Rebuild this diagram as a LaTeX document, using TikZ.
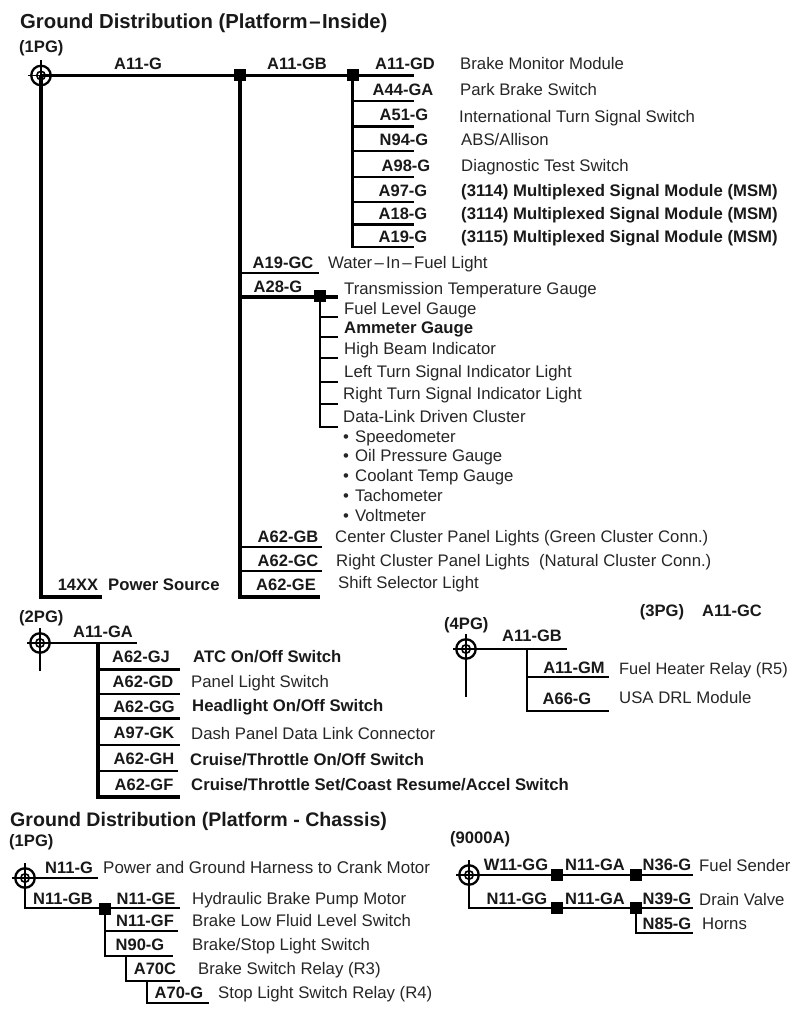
\documentclass[tikz,border=0pt]{standalone}
\usepackage{fontspec}
\setmainfont{Liberation Sans}
\newcommand{\dsh}{\kern1.5pt–\kern1.5pt}
\newcommand{\dshb}{\kern2.3pt–\kern2.3pt}
\tikzset{
  wl/.style={inner sep=0pt,text height=12pt,text depth=0pt,font=\fontsize{16.5}{18}\selectfont\bfseries,text=black!90,anchor=center},
  tx/.style={inner sep=0pt,text height=12pt,text depth=0pt,font=\fontsize{16.75}{18}\selectfont,text=black!85,anchor=west},
  bx/.style={inner sep=0pt,text height=12pt,text depth=0pt,font=\fontsize{16.7}{18}\selectfont\bfseries,text=black!90,anchor=west},
  ttl/.style={inner sep=0pt,text height=14.5pt,text depth=0pt,font=\fontsize{20.3}{22}\selectfont\bfseries,text=black!90,anchor=west},
  ttlb/.style={ttl,font=\fontsize{19.6}{22}\selectfont\bfseries},
  tag/.style={inner sep=0pt,text height=12pt,text depth=0pt,font=\fontsize{16.6}{18}\selectfont\bfseries,text=black!90,anchor=center},
  thickw/.style={line width=3.3pt,black},
  midw/.style={line width=2.7pt,black},
  thinw/.style={line width=1.9pt,black},
  junc/.style={rectangle,fill=black,inner sep=0pt,minimum size=12pt},
  gndo/.style={circle,draw=black,line width=2.3pt,inner sep=0pt,minimum size=19.5pt},
  gndi/.style={circle,draw=black,line width=1.6pt,inner sep=0pt,minimum size=8.5pt},
}
% ground symbol: name, x, y
\newcommand{\gnd}[3]{%
  \node[gndo] (#1) at (#2,#3) {};
  \node[gndi] (#1i) at (#2,#3) {};
  \coordinate (#1l) at (#2-13,#3);
  \coordinate (#1t) at (#2,#3-15);
  \draw[line width=1.6pt] (#1l) -- (#1.center);
  \draw[line width=1.6pt] (#1t) -- (#1.center);
}
% horizontal branch: name, x0, x1, y, style
\newcommand{\hbr}[5]{%
  \coordinate (#1a) at (#2,#4);
  \coordinate (#1b) at (#3,#4);
  \draw[#5,line cap=butt] (#1a) -- (#1b);
}
\begin{document}
\begin{tikzpicture}[x=1pt,y=-1pt]
\useasboundingbox (0,0) rectangle (800,1022);
\fill[white] (0,0) rectangle (800,1022);

%% ---------- Platform - Inside ----------
\node[ttl] (t1) at (20,21) {Ground Distribution (Platform\dsh Inside)};
\node[tag,anchor=west] (p1) at (19,47) {(1PG)};
\gnd{g1}{41}{75.5}
\node[junc] (j1) at (240,75.5) {};
\node[junc] (j2) at (352.5,75.5) {};
\coordinate (m1e) at (414,75.5);
\draw[midw] (g1.center) -- (j1.center) -- (j2.center) -- (m1e);
\coordinate (k1) at (41,597);
\coordinate (k1e) at (102,597);
\draw[thickw] (g1.center) -- (k1) -- (k1e);
\coordinate (k2) at (240,597);
\coordinate (k2e) at (320,597);
\draw[thickw] (j1.center) -- (k2) -- (k2e);
\coordinate (k3) at (352.5,247);
\coordinate (k3e) at (414,247);
\draw[midw] (j2.center) -- (k3) -- (k3e);
\hbr{b1}{352}{414}{101}{midw}
\hbr{b2}{352}{414}{126.5}{midw}
\hbr{b3}{352}{414}{151}{midw}
\hbr{b4}{352}{414}{177}{midw}
\hbr{b5}{352}{414}{202}{midw}
\hbr{b6}{352}{414}{224.5}{midw}

\node[wl] (w01) at (138,64) {A11-G};
\node[wl] (w02) at (297,64) {A11-GB};
\node[wl] (w03) at (405,64) {A11-GD};
\node[wl] (w04) at (403,90) {A44-GA};
\node[wl] (w05) at (404,115) {A51-G};
\node[wl] (w06) at (404,140) {N94-G};
\node[wl] (w07) at (406,165) {A98-G};
\node[wl] (w08) at (403,190) {A97-G};
\node[wl] (w09) at (403,213) {A18-G};
\node[wl] (w10) at (403,236) {A19-G};
\node[tx] (d01) at (460,63.5) {Brake Monitor Module};
\node[tx] (d02) at (460,90) {Park Brake Switch};
\node[tx] (d03) at (459,116) {International Turn Signal Switch};
\node[tx] (d04) at (461,140) {ABS/Allison};
\node[tx] (d05) at (461,165.5) {Diagnostic Test Switch};
\node[bx] (d06) at (461,190) {(3114) Multiplexed Signal Module (MSM)};
\node[bx] (d07) at (461,213) {(3114) Multiplexed Signal Module (MSM)};
\node[bx] (d08) at (461,236) {(3115) Multiplexed Signal Module (MSM)};

\hbr{c1}{240}{319}{273}{thinw}
\node[junc] (j3) at (320,295.5) {};
\coordinate (c2a) at (240,297);
\coordinate (c2b) at (338,297);
\draw[thickw] (c2a) -- (c2b);
\coordinate (c3) at (320,427);
\coordinate (c3e) at (338,427);
\draw[midw] (j3.center) -- (c3) -- (c3e);
\hbr{e1}{320}{338}{317}{thinw}
\hbr{e2}{320}{338}{337}{thinw}
\hbr{e3}{320}{338}{358}{thinw}
\hbr{e4}{320}{338}{382}{thinw}
\hbr{e5}{320}{338}{404}{thinw}
\hbr{c4}{240}{322}{547}{midw}
\hbr{c5}{240}{322}{571}{midw}

\node[wl] (w11) at (283,262) {A19-GC};
\node[wl] (w12) at (278,286) {A28-G};
\node[tx] (d09) at (328,262) {Water\dshb In\dshb Fuel Light};
\node[tx] (d10) at (344,288) {Transmission Temperature Gauge};
\node[tx] (d11) at (344,308) {Fuel Level Gauge};
\node[bx] (d12) at (344,327) {Ammeter Gauge};
\node[tx] (d13) at (344,348) {High Beam Indicator};
\node[tx] (d14) at (344,371) {Left Turn Signal Indicator Light};
\node[tx] (d15) at (343,393) {Right Turn Signal Indicator Light};
\node[tx] (d16) at (343,416) {Data-Link Driven Cluster};
\node[tx] (d17) at (343,436) {•\kern1.5pt\ Speedometer};
\node[tx] (d18) at (343,455.5) {•\kern1.5pt\ Oil Pressure Gauge};
\node[tx] (d19) at (343,475.5) {•\kern1.5pt\ Coolant Temp Gauge};
\node[tx] (d20) at (343,495) {•\kern1.5pt\ Tachometer};
\node[tx] (d21) at (343,515) {•\kern1.5pt\ Voltmeter};
\node[wl] (w13) at (288,536) {A62-GB};
\node[wl] (w14) at (288,560) {A62-GC};
\node[wl] (w15) at (286,584) {A62-GE};
\node[tx,font=\fontsize{16.7}{18}\selectfont] (d22) at (335,536) {Center Cluster Panel Lights (Green Cluster Conn.)};
\node[tx,font=\fontsize{16.75}{18}\selectfont] (d23) at (336,560) {Right Cluster Panel Lights\ \ (Natural Cluster Conn.)};
\node[tx] (d24) at (338,582) {Shift Selector Light};
\node[wl] (w16) at (78,584) {14XX};
\node[bx] (d25) at (108,584.5) {Power Source};

%% ---------- 2PG ----------
\node[tag,anchor=west] (p2) at (19,616) {(2PG)};
\gnd{g2}{40}{643}
\coordinate (g2d) at (40,671);
\draw[line width=1.8pt] (g2.center) -- (g2d);
\coordinate (n1) at (98,643);
\coordinate (n1e) at (137,643);
\draw[line width=2.2pt] (g2.center) -- (n1) -- (n1e);
\coordinate (n2) at (98,797);
\coordinate (n2e) at (180,797);
\draw[thickw] (n1) -- (n2) -- (n2e);
\hbr{f1}{98}{180}{669.5}{midw}
\hbr{f2}{98}{180}{694}{midw}
\hbr{f3}{98}{180}{718.5}{midw}
\hbr{f4}{98}{180}{745}{midw}
\hbr{f5}{98}{178}{771}{midw}
\node[wl] (w20) at (103,631) {A11-GA};
\node[wl] (w21) at (141,656) {A62-GJ};
\node[wl] (w22) at (143,681) {A62-GD};
\node[wl] (w23) at (144,706) {A62-GG};
\node[wl] (w24) at (144,732) {A97-GK};
\node[wl] (w25) at (144,758) {A62-GH};
\node[wl] (w26) at (144,784) {A62-GF};
\node[bx] (d30) at (193,656.5) {ATC On/Off Switch};
\node[tx] (d31) at (191,681) {Panel Light Switch};
\node[bx] (d32) at (192,705) {Headlight On/Off Switch};
\node[tx] (d33) at (191,733) {Dash Panel Data Link Connector};
\node[bx] (d34) at (190,759) {Cruise/Throttle On/Off Switch};
\node[bx] (d35) at (191,784) {Cruise/Throttle Set/Coast Resume/Accel Switch};

%% ---------- 4PG / 3PG ----------
\node[tag,anchor=west] (p4) at (444,623) {(4PG)};
\node[tag] (p3) at (662,610) {(3PG)};
\node[wl] (w30) at (732,610) {A11-GC};
\gnd{g4}{466}{649}
\coordinate (g4d) at (466,697);
\draw[line width=1.9pt] (g4.center) -- (g4d);
\coordinate (q1) at (527,649);
\coordinate (q1e) at (567,649);
\draw[midw] (g4.center) -- (q1) -- (q1e);
\coordinate (q2) at (527,711);
\coordinate (q2e) at (609,711);
\draw[midw] (q1) -- (q2) -- (q2e);
\hbr{h1}{527}{609}{677}{midw}
\node[wl] (w31) at (532,635) {A11-GB};
\node[wl] (w32) at (574,667) {A11-GM};
\node[wl] (w33) at (567,698) {A66-G};
\node[tx,font=\fontsize{16.4}{18}\selectfont] (d40) at (619,668) {Fuel Heater Relay (R5)};
\node[tx] (d41) at (619,697) {USA DRL Module};

%% ---------- Platform - Chassis ----------
\node[ttlb] (t2) at (10,819) {Ground Distribution (Platform - Chassis)};
\node[tag,anchor=west] (p5) at (9,840) {(1PG)};
\gnd{g5}{25}{878}
\coordinate (r1e) at (98,878);
\draw[midw] (g5.center) -- (r1e);
\node[junc] (j5) at (105,909) {};
\coordinate (r2) at (25,908);
\coordinate (r3e) at (180,908);
\draw[midw] (g5.center) -- (r2) -- (r3e);
\coordinate (r4) at (105,956);
\coordinate (r4e) at (173,956);
\draw[midw] (j5.center) -- (r4) -- (r4e);
\hbr{s1}{105}{178}{931}{midw}
\coordinate (r5) at (126,956);
\coordinate (r6) at (126,981);
\coordinate (r6e) at (180,981);
\draw[midw] (r5) -- (r6) -- (r6e);
\coordinate (r7) at (147,981);
\coordinate (r8) at (147,1003);
\coordinate (r8e) at (209,1003);
\draw[midw] (r7) -- (r8) -- (r8e);
\node[wl] (w40) at (69,867) {N11-G};
\node[wl] (w41) at (63,898) {N11-GB};
\node[wl] (w42) at (146,898) {N11-GE};
\node[wl] (w43) at (145,920) {N11-GF};
\node[wl] (w44) at (140,944) {N90-G};
\node[wl] (w45) at (155,968) {A70C};
\node[wl] (w46) at (179,992) {A70-G};
\node[tx,font=\fontsize{16.95}{18}\selectfont] (d50) at (103,867) {Power and Ground Harness to Crank Motor};
\node[tx] (d51) at (192,898) {Hydraulic Brake Pump Motor};
\node[tx] (d52) at (192,920.5) {Brake Low Fluid Level Switch};
\node[tx] (d53) at (192,944.5) {Brake/Stop Light Switch};
\node[tx] (d54) at (198,968.5) {Brake Switch Relay (R3)};
\node[tx] (d55) at (218,992.5) {Stop Light Switch Relay (R4)};

%% ---------- 9000A ----------
\node[tag,anchor=west] (p6) at (450,837) {(9000A)};
\gnd{g6}{469}{875}
\node[junc] (j6) at (557,875) {};
\node[junc] (j7) at (636,875) {};
\node[junc] (j8) at (557,908) {};
\node[junc] (j9) at (636,908) {};
\coordinate (u1e) at (693,875);
\draw[midw] (g6.center) -- (j6.center) -- (j7.center) -- (u1e);
\coordinate (u2) at (469,908);
\coordinate (u2e) at (693,908);
\draw[midw] (g6.center) -- (u2) -- (j8.center) -- (j9.center) -- (u2e);
\coordinate (u3) at (636,933);
\coordinate (u3e) at (693,933);
\draw[midw] (j9.center) -- (u3) -- (u3e);
\node[wl] (w50) at (516,864) {W11-GG};
\node[wl] (w51) at (595,864) {N11-GA};
\node[wl] (w52) at (667,864) {N36-G};
\node[wl] (w53) at (517,898) {N11-GG};
\node[wl] (w54) at (595,898) {N11-GA};
\node[wl] (w55) at (667,898) {N39-G};
\node[wl] (w56) at (667,923) {N85-G};
\node[tx] (d60) at (699,865) {Fuel Sender};
\node[tx] (d61) at (699,899) {Drain Valve};
\node[tx] (d62) at (702,923) {Horns};
\end{tikzpicture}
\end{document}
